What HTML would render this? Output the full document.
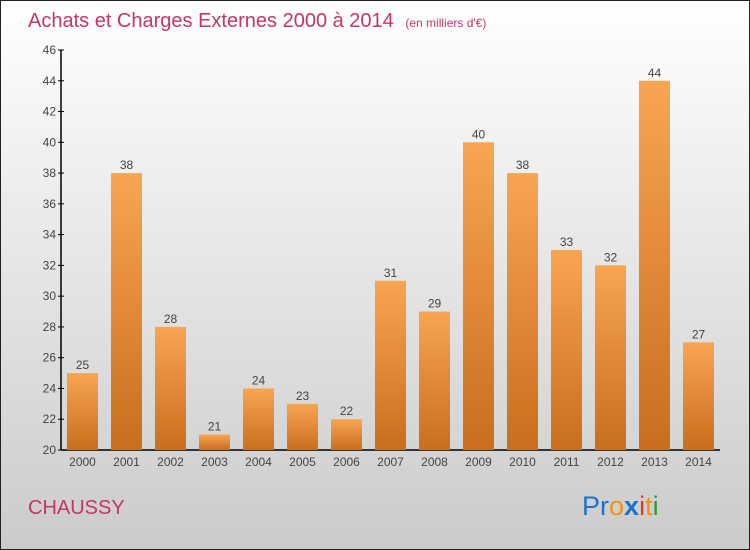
<!DOCTYPE html>
<html><head><meta charset="utf-8"><style>
body{margin:0}
#wrap{width:750px;height:550px;position:relative;overflow:hidden}
</style></head><body>
<div id="wrap">
<svg id="svg" width="750" height="550" xmlns="http://www.w3.org/2000/svg" font-family="'Liberation Sans', sans-serif">
<defs>
<linearGradient id="bg" x1="0" y1="0" x2="0" y2="1"><stop offset="0" stop-color="#ffffff"/><stop offset="1" stop-color="#cbcbcb"/></linearGradient>
<linearGradient id="bar" x1="0" y1="0" x2="0" y2="1"><stop offset="0" stop-color="#f8a552"/><stop offset="1" stop-color="#c96e1c"/></linearGradient>
</defs>
<rect x="0.5" y="0.5" width="749" height="549" fill="url(#bg)" stroke="#222"/>
<text x="28" y="27" font-size="20" fill="#c8336a">Achats et Charges Externes 2000 à 2014 <tspan font-size="12" dx="6">(en milliers d'€)</tspan></text>
<g id="plot"></g>
<text x="28" y="514" font-size="20" fill="#c8336a">CHAUSSY</text>
<text x="582" y="515" font-size="27"><tspan fill="#1a73c8">Pr</tspan><tspan fill="#f39012">o</tspan><tspan fill="#1a73c8" font-weight="bold">x</tspan><tspan fill="#e03a1e">i</tspan><tspan fill="#f39012">t</tspan><tspan fill="#2a9a3a">i</tspan></text>
</svg>
</div>
<script>
const years=["2000","2001","2002","2003","2004","2005","2006","2007","2008","2009","2010","2011","2012","2013","2014"];
const values=[25,38,28,21,24,23,22,31,29,40,38,33,32,44,27];
const yTicks=[20,22,24,26,28,30,32,34,36,38,40,42,44,46];
const NS="http://www.w3.org/2000/svg";
const g=document.getElementById('plot');
const y0=450,yTop=50,vMin=20,vMax=46;
function yS(v){return y0-(v-vMin)*(y0-yTop)/(vMax-vMin);}
function xS(i){return 82+i*44;}
function mk(t,a,txt){const e=document.createElementNS(NS,t);for(const k in a)e.setAttribute(k,a[k]);if(txt!==undefined)e.textContent=txt;g.appendChild(e);return e;}
let ax=mk('line',{x1:61,y1:yTop,x2:61,y2:y0,stroke:'#000','stroke-width':1.5});

let bx=mk('line',{x1:61,y1:y0,x2:720,y2:y0,stroke:'#000','stroke-width':1.5});

yTicks.forEach(v=>{
 const t=mk('line',{x1:58,y1:yS(v),x2:64,y2:yS(v),stroke:'#000'});
 
 const l=mk('text',{x:56,y:yS(v)+4,'font-size':12,fill:'#444','text-anchor':'end'},v);
 
});
values.forEach((v,i)=>{
 const r=mk('rect',{x:xS(i)-15,y:yS(v),width:31,height:y0-yS(v),fill:'url(#bar)'});
 
 const vl=mk('text',{x:xS(i)+0.5,y:yS(v)-4,'font-size':12,fill:'#444','text-anchor':'middle'},v);
 
 const xl=mk('text',{x:xS(i)+0.5,y:466,'font-size':12,fill:'#444','text-anchor':'middle'},years[i]);
 
});
</script>
</body></html>
